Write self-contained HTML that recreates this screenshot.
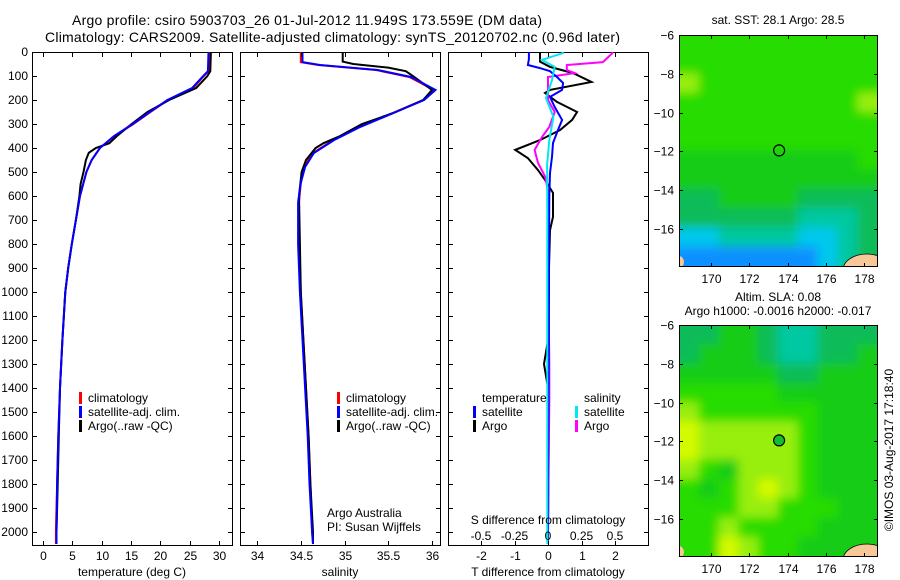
<!DOCTYPE html>
<html><head><meta charset="utf-8">
<style>
body{margin:0;background:#fff;}
svg{display:block;font-family:"Liberation Sans",Arial,sans-serif;}
</style></head>
<body>
<svg id="fig" width="900" height="580" viewBox="0 0 900 580" xmlns="http://www.w3.org/2000/svg">
<defs>
<filter id="soft" x="-5%" y="-5%" width="110%" height="110%"><feGaussianBlur stdDeviation="5"/></filter>
<clipPath id="clip1"><rect x="679" y="35" width="198" height="231"/></clipPath>
<clipPath id="clip2"><rect x="679" y="325" width="198" height="231"/></clipPath>
</defs>
<text x="72" y="25" font-size="14" textLength="470">Argo profile: csiro 5903703_26 01-Jul-2012 11.949S 173.559E (DM data)</text>
<text x="45" y="42" font-size="14" textLength="575">Climatology: CARS2009. Satellite-adjusted climatology: synTS_20120702.nc (0.96d later)</text>
<g id="g"></g>
</svg>
<script>
// ---------- data ----------
const tDepth = [0,80,100,150,200,250,300,350,400,450,500,600,700,800,900,1000,1200,1400,1600,1800,2000,2050];
const tClim  = [28.4,28.2,27.4,25.6,21.3,18.3,15.4,12.2,9.7,8.3,7.4,6.3,5.6,4.9,4.3,3.8,3.3,2.9,2.6,2.4,2.2,2.2];
const tSat   = [28.2,28.1,27.3,25.4,21.2,18.2,15.3,12.1,9.7,8.3,7.4,6.3,5.6,4.9,4.3,3.8,3.3,2.9,2.6,2.4,2.3,2.3];
const argoDepth = [0,80,100,150,200,250,300,350,380,400,420,450,500,550,600,700,800,900,1000,1200,1400,1600,1800,2000,2050];
const tArgo  = [28.6,28.5,28.0,26.1,21.5,17.8,15.1,12.6,11.3,9.0,7.8,7.3,6.9,6.4,6.2,5.6,4.9,4.3,3.8,3.3,2.9,2.7,2.5,2.3,2.3];
const sDepth = [0,42,54,75,104,158,200,254,312,367,421,479,546,625,800,1000,1200,1400,1600,1800,2000,2050];
const sClim  = [34.5,34.5,34.7,35.36,35.74,36.02,35.9,35.55,35.17,34.87,34.64,34.54,34.5,34.48,34.48,34.5,34.53,34.56,34.59,34.61,34.63,34.64];
const sSat   = [34.52,34.52,34.72,35.38,35.76,36.04,35.91,35.56,35.18,34.88,34.65,34.55,34.5,34.47,34.47,34.49,34.52,34.55,34.58,34.6,34.63,34.64];
const sArgoDepth = [0,40,50,65,80,100,158,200,254,300,350,380,400,450,500,600,800,1000,1200,1400,1600,1800,2000,2050];
const sArgo  = [34.98,34.98,35.1,35.5,35.7,35.78,36.0,35.9,35.56,35.2,34.95,34.76,34.67,34.56,34.51,34.48,34.49,34.5,34.53,34.56,34.59,34.61,34.64,34.64];
const dDepth = [0,30,54,67,80,104,129,158,187,229,283,325,379,437,504,600,800,1000,1300,1600,2000,2050];
const dTSat  = [-0.57,-0.57,-0.6,-0.24,0.06,0.27,0.45,0.42,0.06,0.2,0.42,0.3,0.15,0.12,0.06,0.04,0.03,0.03,0.02,0.01,0.0,0.0];
const dArgoDepth = [0,40,62,88,125,158,171,208,250,283,325,367,408,442,492,533,587,687,742,900,1200,1300,1400,1600,2000,2050];
const dTArgo = [-0.24,-0.24,0.06,0.75,1.3,0.06,-0.09,0.27,0.87,0.72,0.36,-0.24,-0.98,-0.6,-0.3,-0.09,0.15,0.15,0.06,0.03,0.0,-0.12,0.0,0.02,0.0,0.0];
const sdDepth = [0,5,33,62,117,192,271,367,470,700,1000,1500,2000,2050];
const dSSat  = [0.11,0.11,-0.045,0.05,0.03,-0.015,0.04,0.01,-0.007,-0.005,-0.005,-0.005,-0.005,-0.005];
const sdArgoDepth = [0,5,42,54,75,88,104,129,200,250,312,354,408,462,521,580,800,1300,1450,2000,2050];
const dSArgo = [0.48,0.48,0.41,0.14,0.14,0.2,0.0,0.0,0.0,0.05,0.01,-0.045,-0.1,-0.075,-0.02,0.0,0.0,0.01,0.01,0.0,0.0];
const depthTicks = [0,100,200,300,400,500,600,700,800,900,1000,1100,1200,1300,1400,1500,1600,1700,1800,1900,2000];
const tTicks = [0,5,10,15,20,25,30];
const sTicks = ["34","34.5","35","35.5","36"];
const dTTicks = ["-2","-1","0","1","2"];
const dSTicks = ["-0.5","-0.25","0","0.25","0.5"];
const lonTicks = [170,172,174,176,178];
const latTicks = [-6,-8,-10,-12,-14,-16];
const sstGrid = [
[5,5,5,5,5,5,5,5,5,5],[5,5,5,5,5,5,5,5,5,5],[6,5,5,5,5,5,5,5,5,5],[5,5,5,5,5,5,5,5,5,6],
[5,5,5,5,5,5,5,5,5,5],[5,5,5,5,5,5,5,5,5,5],[4,4,4,4,4,4,4,4,4,5],[4,4,4,4,4,4,4,4,4,4],
[3,3,4,4,4,4,3,3,3,3],[3,3,3,3,3,3,2,2,2,3],[1,1,2,2,2,2,1,1,2,3],[0,0,0,0,0,0,0,1,2,3]];
const slaGrid = [
[3,3,4,4,3,2,2,3,3,3],[3,4,4,4,3,2,2,3,3,4],[4,4,4,4,4,3,3,4,4,4],[5,5,5,5,5,4,4,4,4,4],
[6,5,5,5,5,5,5,4,4,4],[7,6,6,6,6,6,5,4,4,4],[7,6,6,6,6,6,5,4,4,4],[6,5,4,6,6,6,5,4,4,4],
[5,4,5,6,7,6,5,4,4,4],[5,5,5,6,6,5,5,5,4,4],[5,5,6,5,5,5,5,4,4,4],[5,5,7,6,5,5,4,4,4,4]];
const floatLon = 173.559, floatLat = -11.949;

// ---------- helpers ----------
const NS="http://www.w3.org/2000/svg";
const G=document.getElementById('g');
function mk(tag,attrs,parent){const e=document.createElementNS(NS,tag);for(const k in attrs)e.setAttribute(k,attrs[k]);(parent||G).appendChild(e);return e;}
function txt(s,x,y,size,anchor,parent){const e=mk('text',{x:x,y:y,'font-size':size,'text-anchor':anchor||'start'},parent);e.textContent=s;return e;}
const TOP=52,BOT=545;
const yD=d=>TOP+d*0.24;
const xT=v=>43+v*5.87;
const xS=v=>257+(v-34)*87.5;
const xDT=v=>548+v*33.5;
const xDS=v=>548+v*134;
function line(depths,vals,xf,color,name,w){
  const pts=depths.map((d,i)=>xf(vals[i]).toFixed(1)+','+yD(d).toFixed(1)).join(' ');
  const p=mk('polyline',{points:pts,fill:'none',stroke:color,'stroke-width':w||2});
  
  
}
function frame(x0,x1,name){
  const r=mk('rect',{x:x0+0.5,y:TOP+0.5,width:x1-x0,height:BOT-TOP,fill:'none',stroke:'#000','stroke-width':1});
  
  
  depthTicks.forEach(d=>{const y=Math.round(yD(d))+0.5;
    mk('line',{x1:x0,x2:x0+5,y1:y,y2:y,stroke:'#000'});
    mk('line',{x1:x1-4,x2:x1,y1:y,y2:y,stroke:'#000'});});
}
function xticks(vals,xf,labels,ly){
  vals.forEach((v,i)=>{const x=Math.round(xf(v))+0.5;
    mk('line',{x1:x,x2:x,y1:TOP,y2:TOP+5,stroke:'#000'});
    mk('line',{x1:x,x2:x,y1:BOT-4,y2:BOT,stroke:'#000'});
    const t=txt(labels[i],x,ly,12,'middle');
    
    });
}
function legend(x,y,items){
  items.forEach((it,i)=>{
    mk('rect',{x:x,y:y+i*14-10,width:3,height:12,fill:it[0]});
    const t=txt(it[1],x+9,y+i*14,12);
    
    });
}

// ---------- panel 1: temperature ----------
frame(32,232,'temperature-panel');
depthTicks.forEach(d=>{const t=txt(String(d),28,yD(d)+4,12,'end');
  
  });
line(tDepth,tClim,xT,'#ff0000','temp-climatology-line');
line(argoDepth,tArgo,xT,'#000000','temp-argo-line');
line(tDepth,tSat,xT,'#0000ff','temp-satellite-line');
xticks(tTicks,xT,tTicks.map(String),560);
let a=txt('temperature (deg C)',132,576,12,'middle');
legend(79,402,[['#ff0000','climatology'],['#0000ff','satellite-adj. clim.'],['#000','Argo(..raw -QC)']]);

// ---------- panel 2: salinity ----------
frame(240,440,'salinity-panel');
line(sDepth,sClim,xS,'#ff0000','sal-climatology-line');
line(sArgoDepth,sArgo,xS,'#000000','sal-argo-line');
line(sDepth,sSat,xS,'#0000ff','sal-satellite-line');
xticks(sTicks.map(Number),xS,sTicks,560);
a=txt('salinity',340,576,12,'middle');
legend(337,402,[['#ff0000','climatology'],['#0000ff','satellite-adj. clim.'],['#000','Argo(..raw -QC)']]);
a=txt('Argo Australia',327,517,12);
a=txt('PI: Susan Wijffels',327,531,12);

// ---------- panel 3: differences ----------
frame(448,648,'difference-panel');
line(dArgoDepth,dTArgo,xDT,'#000000','tdiff-argo-line');
line(sdArgoDepth,dSArgo,xDS,'#ff00ff','sdiff-argo-line');
line(dDepth,dTSat,xDT,'#0000ff','tdiff-satellite-line');
line(sdDepth,dSSat,xDS,'#00e8f0','sdiff-satellite-line');
xticks(dTTicks.map(Number),xDT,dTTicks,560);
dSTicks.forEach(v=>{const t=txt(v,xDS(Number(v)),540,12,'middle');});
a=txt('S difference from climatology',548,524,12,'middle');
a=txt('T difference from climatology',548,576,12,'middle');
a=txt('temperature',482,402,12);
a=txt('salinity',584,402,12);
legend(473,416,[['#0000ff','satellite'],['#000','Argo']]);
legend(575,416,[['#00e8f0','satellite'],['#ff00ff','Argo']]);

// ---------- maps ----------
const colors=['#1090ff','#00c8ec','#00c8a0','#10bc58','#14cc14','#28dc00','#98ee08','#d4fa00'];
function map(grid,x0,y0,x1,y1,name,filled,lblY,clipId){
  const lonScale=(x1-x0)/(178.7-168.3);
  const latScale=19.4;
  const xL=l=>x0+(l-168.3)*lonScale;
  const yL=l=>y0+(-6-l)*latScale;
  const rows=grid.length, cols=grid[0].length;
  const cw=(x1-x0)/cols, ch=(y1-y0)/rows;
  const outer=mk('g',{'clip-path':'url(#'+clipId+')'});
  
  
  const g=mk('g',{filter:'url(#soft)'},outer);
  grid.forEach((row,r)=>row.forEach((v,c)=>{
    const cell=mk('rect',{x:x0+c*cw-(c==0?10:0),y:y0+r*ch-(r==0?10:0),width:cw+0.6+(c==0||c==cols-1?10:0),height:ch+0.6+(r==0||r==rows-1?10:0),fill:colors[v]},g);
    
    
  }));
  mk('ellipse',{cx:x1-10,cy:y1+4,rx:24,ry:16,fill:'#f8c898',stroke:'#000','stroke-width':0.8},outer);
  mk('ellipse',{cx:x0,cy:y1-4,rx:5,ry:6,fill:'#f8c898'},outer);
  const fr=mk('rect',{x:x0+0.5,y:y0+0.5,width:x1-x0,height:y1-y0,fill:'none',stroke:'#000'});
  
  
  const m=mk('circle',{cx:xL(floatLon),cy:yL(floatLat),r:5.5,fill:filled?'#14bc30':'none',stroke:'#000','stroke-width':1.2});
  
  
  lonTicks.forEach(l=>{const x=Math.round(xL(l))+0.5;
    mk('line',{x1:x,x2:x,y1:y0,y2:y0+4,stroke:'#000'});mk('line',{x1:x,x2:x,y1:y1-3,y2:y1,stroke:'#000'});
    const t=txt(String(l),x,lblY,12,'middle');});
  latTicks.forEach(l=>{const y=Math.round(yL(l))+0.5;
    mk('line',{x1:x0,x2:x0+4,y1:y,y2:y,stroke:'#000'});mk('line',{x1:x1-3,x2:x1,y1:y,y2:y,stroke:'#000'});
    const t=txt(String(l).replace('-','\u2212'),x0-5,y+4,12,'end');});
}
map(sstGrid,679,35,877,266,'sst-map',false,283,'clip1');
map(slaGrid,679,325,877,556,'sla-map',true,573,'clip2');
a=txt('sat. SST: 28.1 Argo: 28.5',778,24,12,'middle');
a=txt('Altim. SLA: 0.08',778,301,12,'middle');
a=txt('Argo h1000: -0.0016 h2000: -0.017',778,315,12,'middle');
a=txt('\u00A9IMOS 03-Aug-2017 17:18:40',0,0,12,'middle');
a.setAttribute('transform','translate(893,450) rotate(-90)');


</script>
</body></html>
